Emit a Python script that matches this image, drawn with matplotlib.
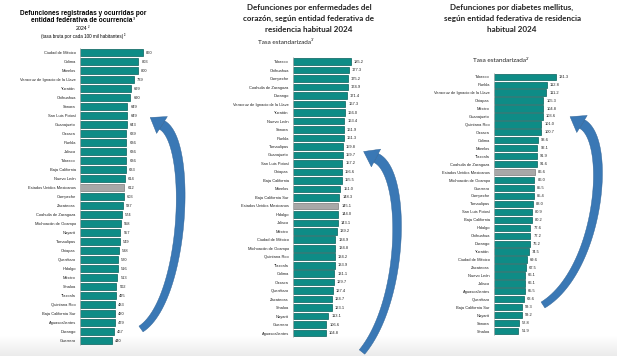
import matplotlib
matplotlib.use("Agg")
import matplotlib.pyplot as plt
import numpy as np
from matplotlib.patches import Polygon
from matplotlib.colors import LinearSegmentedColormap

W, H = 617, 356

# --- datos ---
ocurrencia_estados = [
    "Ciudad de México", "Colima", "Morelos", "Veracruz de Ignacio de la Llave",
    "Yucatán", "Chihuahua", "Sonora", "San Luis Potosí", "Guanajuato", "Oaxaca",
    "Puebla", "Jalisco", "Tabasco", "Baja California", "Nuevo León",
    "Estados Unidos Mexicanos", "Campeche", "Zacatecas", "Coahuila de Zaragoza",
    "Michoacán de Ocampo", "Nayarit", "Tamaulipas", "Chiapas", "Querétaro",
    "Hidalgo", "México", "Sinaloa", "Tlaxcala", "Quintana Roo",
    "Baja California Sur", "Aguascalientes", "Durango", "Guerrero",
]
ocurrencia_tasas = [860, 803, 800, 739, 699, 690, 649, 649, 643, 639, 636, 636,
                    636, 633, 614, 612, 603, 587, 574, 558, 557, 549, 538, 520,
                    516, 513, 502, 495, 483, 480, 479, 467, 440]

corazon_estados = [
    "Tabasco", "Chihuahua", "Campeche", "Coahuila de Zaragoza", "Durango",
    "Veracruz de Ignacio de la Llave", "Yucatán", "Nuevo León", "Sonora", "Puebla",
    "Tamaulipas", "Guanajuato", "San Luis Potosí", "Chiapas", "Baja California",
    "Morelos", "Baja California Sur", "Estados Unidos Mexicanos", "Hidalgo",
    "Jalisco", "México", "Ciudad de México", "Michoacán de Ocampo", "Quintana Roo",
    "Tlaxcala", "Colima", "Oaxaca", "Querétaro", "Zacatecas", "Sinaloa", "Nayarit",
    "Guerrero", "Aguascalientes",
]
corazon_tasas = [185.2, 177.3, 175.2, 174.9, 171.4, 167.3, 166.0, 163.4, 161.9,
                 161.3, 159.8, 159.7, 157.2, 156.6, 155.5, 151.0, 148.3, 145.1,
                 144.0, 143.1, 139.2, 134.9, 134.8, 134.2, 133.9, 131.1, 129.7,
                 127.4, 124.7, 123.1, 113.1, 106.6, 104.8]

diabetes_estados = [
    "Tabasco", "Puebla", "Veracruz de Ignacio de la Llave", "Chiapas", "México",
    "Guanajuato", "Quintana Roo", "Oaxaca", "Colima", "Morelos", "Tlaxcala",
    "Coahuila de Zaragoza", "Estados Unidos Mexicanos", "Michoacán de Ocampo",
    "Guerrero", "Campeche", "Tamaulipas", "San Luis Potosí", "Baja California",
    "Hidalgo", "Chihuahua", "Durango", "Yucatán", "Ciudad de México", "Zacatecas",
    "Nuevo León", "Jalisco", "Aguascalientes", "Querétaro", "Baja California Sur",
    "Nayarit", "Sonora", "Sinaloa",
]
diabetes_tasas = [131.3, 112.8, 111.2, 105.3, 104.8, 103.6, 101.0, 100.7, 93.6,
                  92.1, 91.9, 91.6, 86.6, 86.0, 85.5, 85.4, 83.0, 80.9, 80.2,
                  77.6, 77.2, 76.2, 74.5, 69.6, 67.5, 66.1, 66.1, 65.5, 63.6,
                  59.3, 59.2, 52.8, 51.9]

NACIONAL = "Estados Unidos Mexicanos"
TEAL = "#0e8c86"
TEAL_EDGE = "#07605c"
GRAY = "#a8a8a8"
GRAY_EDGE = "#7a7a7a"
ARROW = "#3a78b5"
LABEL_FONT = "Liberation Sans"
TITLE_FONT = "Lato"

fig = plt.figure(figsize=(W / 100, H / 100), dpi=100)
renderer = fig.canvas.get_renderer()

# fondo: ligero degradado gris en la parte inferior
bg = fig.add_axes([0, 0, 1, 1])
bg.set_xlim(0, W)
bg.set_ylim(H, 0)
bg.axis("off")
grad = np.linspace(0, 1, 50).reshape(-1, 1)
bg.imshow(grad, extent=[0, W, H, 336], aspect="auto", zorder=0,
          cmap=LinearSegmentedColormap.from_list("g", ["#ffffff", "#ebebeb"]))


def panel(estados, tasas, x0, y_first, spacing, bar_px, fmt):
    n = len(estados)
    top = y_first - spacing / 2
    bottom = y_first + spacing * (n - 1) + spacing / 2
    width = 90
    ax = fig.add_axes([x0 / W, 1 - bottom / H, width / W, (bottom - top) / H])
    ax.patch.set_alpha(0)
    xmax = max(tasas) * width / bar_px
    colors = [GRAY if e == NACIONAL else TEAL for e in estados]
    edges = [GRAY_EDGE if e == NACIONAL else TEAL_EDGE for e in estados]
    ax.barh(range(n), tasas, height=0.78, color=colors, edgecolor=edges, linewidth=0.5)
    for i, v in enumerate(tasas):
        ax.text(v + xmax * 0.035, i, fmt.format(v), va="center", ha="left",
                fontsize=2.9, family=LABEL_FONT, color="#222222")
    ax.set_xlim(0, xmax)
    ax.set_ylim(n - 0.5, -0.5)
    ax.set_yticks(range(n))
    ax.set_yticklabels(estados, fontsize=2.9, family=LABEL_FONT, color="#222222")
    ax.tick_params(axis="y", length=0, pad=3)
    ax.set_xticks([])
    for s in ["top", "right", "bottom"]:
        ax.spines[s].set_visible(False)
    ax.spines["left"].set_color("#bbbbbb")
    ax.spines["left"].set_linewidth(0.5)
    return ax


panel(ocurrencia_estados, ocurrencia_tasas, 80, 52.7, 9.0, 62.5, "{:.0f}")
panel(corazon_estados, corazon_tasas, 293, 61.7, 8.48, 58, "{:.1f}")
panel(diabetes_estados, diabetes_tasas, 494, 76.7, 7.95, 61.7, "{:.1f}")


def texto(x, y, main, size, sup=None, **kw):
    """texto centrado en (x, y) pixeles desde arriba, con nota en superindice opcional"""
    t = fig.text(0, 0, main, ha="left", va="center", fontsize=size, **kw)
    wt = t.get_window_extent(renderer).width
    ws = 0
    if sup:
        kw.pop("fontweight", None)
        s = fig.text(0, 0, sup, ha="left", va="center", fontsize=size * 0.55, **kw)
        ws = s.get_window_extent(renderer).width
    left = x - (wt + ws) / 2
    t.set_position((left / W, 1 - y / H))
    if sup:
        s.set_position(((left + wt + 0.3) / W, 1 - (y - size * 0.5) / H))


# --- titulos ---
texto(83, 13.5, "Defunciones registradas y ocurridas por", 4.7,
      fontweight="bold", family=LABEL_FONT)
texto(83, 21, "entidad federativa de ocurrencia", 4.7, "1/",
      fontweight="bold", family=LABEL_FONT)
texto(83, 28.5, "2024", 3.8, "2/", family=LABEL_FONT)
texto(83, 36.5, "(tasa bruta por cada 100 mil habitantes)", 3.3, "3/", family=LABEL_FONT)

for k, line in enumerate(["Defunciones por enfermedades del",
                          "corazón, según entidad federativa de",
                          "residencia habitual 2024"]):
    texto(309, 7.3 + 11 * k, line, 5.8, fontweight="bold", family=TITLE_FONT, color="#222222")
texto(286, 42, "Tasa estandarizada", 4.6, "3/", family=TITLE_FONT, color="#222222")

for k, line in enumerate(["Defunciones por diabetes mellitus,",
                          "según entidad federativa de residencia",
                          "habitual 2024"]):
    texto(512, 7.3 + 11 * k, line, 5.8, fontweight="bold", family=TITLE_FONT, color="#222222")
texto(501, 61, "Tasa estandarizada", 4.6, "2/", family=TITLE_FONT, color="#222222")

# --- flechas curvas (cola abajo, punta hacia el estado resaltado) ---
top = fig.add_axes([0, 0, 1, 1])
top.set_xlim(0, W)
top.set_ylim(H, 0)
top.axis("off")
top.patch.set_alpha(0)


def flecha(p0, p1, p2, p3, w0=7.0, w1=10.0, head_w=20.0, head_l=14.0):
    p0, p1, p2, p3 = map(np.asarray, (p0, p1, p2, p3))
    t = np.linspace(0, 1, 60)[:, None]
    pts = (1 - t) ** 3 * p0 + 3 * (1 - t) ** 2 * t * p1 + 3 * (1 - t) * t ** 2 * p2 + t ** 3 * p3
    d = np.gradient(pts, axis=0)
    d /= np.linalg.norm(d, axis=1)[:, None]
    nrm = np.column_stack([-d[:, 1], d[:, 0]])
    wid = (w0 + (w1 - w0) * t[:, 0])[:, None] / 2
    body = np.vstack([pts + nrm * wid, (pts - nrm * wid)[::-1]])
    top.add_patch(Polygon(body, closed=True, fc=ARROW, ec="#2c5f92", lw=0.3, zorder=5))
    u = d[-1]
    n = nrm[-1]
    tip = p3 + u * head_l
    head = [p3 + n * head_w / 2, tip, p3 - n * head_w / 2]
    top.add_patch(Polygon(head, closed=True, fc=ARROW, ec="#2c5f92", lw=0.3, zorder=5))


flecha((141, 329), (185, 300), (193, 142), (162, 125))
flecha((362, 352), (405, 300), (407, 172), (376, 158))
flecha((543, 305), (600, 270), (612, 140), (582, 124))

fig.savefig("out.png", dpi=100)
